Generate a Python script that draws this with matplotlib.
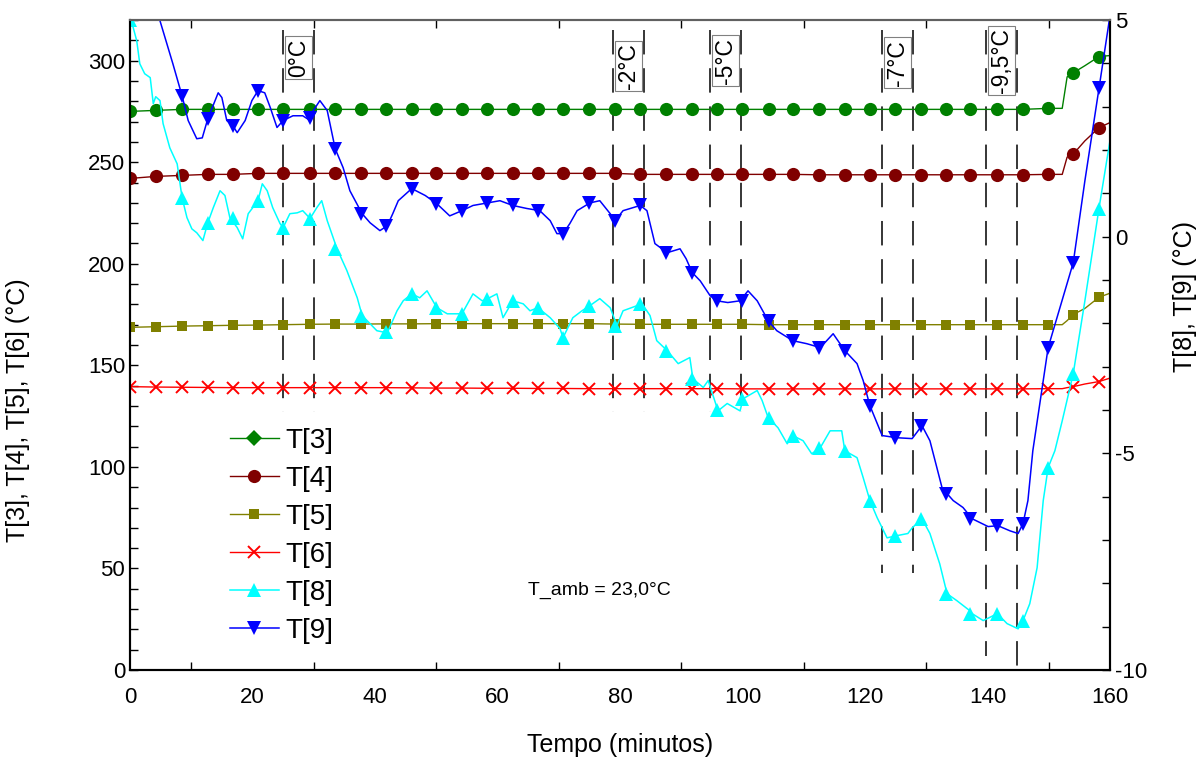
import matplotlib
matplotlib.use("Agg")
import matplotlib.pyplot as plt
from matplotlib.lines import Line2D
from matplotlib.ticker import MultipleLocator, FixedLocator

plt.rcParams['font.family'] = ['Liberation Sans', 'DejaVu Sans']
plt.rcParams['axes.unicode_minus'] = False

# tempos das amostras marcadas (minutos)
t_mark = [0.0, 4.2, 8.5, 12.7, 16.8, 20.9, 25.0, 29.4, 33.5, 37.7, 41.8, 46.0, 49.9,
          54.2, 58.3, 62.5, 66.6, 70.7, 75.0, 79.2, 83.3, 87.5, 91.8, 95.8, 99.9,
          104.3, 108.2, 112.5, 116.7, 120.8, 124.9, 129.1, 133.2, 137.1, 141.6,
          145.8, 149.9, 154.0, 158.2]

T3_mark = [275.0, 275.5, 276.0, 276.0, 276.0, 276.0, 276.0, 276.0, 276.0, 276.0, 276.0,
           276.0, 276.0, 276.0, 276.0, 276.0, 276.0, 276.0, 276.0, 276.0, 276.0, 276.0,
           276.0, 276.0, 276.0, 276.0, 276.0, 276.0, 276.0, 276.0, 276.0, 276.0, 276.0,
           276.0, 276.0, 276.0, 276.5, 294.0, 302.0]
T4_mark = [242.0, 243.0, 243.5, 244.0, 244.0, 244.5, 244.5, 244.5, 244.5, 244.5, 244.5,
           244.5, 244.5, 244.5, 244.5, 244.5, 244.5, 244.5, 244.5, 244.5, 244.0, 244.0,
           244.0, 244.0, 244.0, 244.0, 244.0, 243.8, 243.8, 243.8, 243.8, 243.8, 243.8,
           243.8, 243.8, 243.8, 244.0, 254.0, 267.0]
T5_mark = [168.7, 169.0, 169.3, 169.5, 169.7, 169.8, 170.0, 170.2, 170.3, 170.3, 170.4,
           170.4, 170.5, 170.5, 170.5, 170.5, 170.5, 170.5, 170.5, 170.3, 170.2, 170.2,
           170.2, 170.2, 170.2, 170.0, 170.0, 170.0, 170.0, 170.0, 170.0, 170.0, 170.0,
           170.0, 170.0, 170.0, 170.0, 175.0, 183.5]
T6_mark = [139.5, 139.3, 139.2, 139.1, 139.0, 139.0, 139.0, 139.0, 139.0, 139.0, 139.0,
           138.9, 138.8, 138.8, 138.7, 138.7, 138.6, 138.6, 138.5, 138.5, 138.5, 138.5,
           138.5, 138.5, 138.4, 138.4, 138.4, 138.4, 138.4, 138.4, 138.4, 138.4, 138.4,
           138.4, 138.4, 138.4, 138.5, 139.5, 142.0]

# trecho final (subida) das curvas T[3]..T[6]
t_end = [152.2, 153.0, 155.9, 160.0]
T3_end = [276.5, 292.0, 297.5, 302.5]
T4_end = [244.0, 252.5, 260.5, 269.5]
T5_end = [170.0, 172.0, 178.0, 185.5]
T6_end = [138.5, 139.0, 140.8, 143.7]

# marcadores de T[8] e T[9] (eixo da direita)
t_mark_89 = t_mark[2:]
T8_mark = [0.90, 0.32, 0.44, 0.83, 0.20, 0.41, -0.28, -1.82, -2.20, -1.32, -1.64, -1.78,
           -1.43, -1.48, -1.64, -2.33, -1.59, -2.05, -1.55, -2.63, -3.28, -4.00, -3.74,
           -4.18, -4.60, -4.87, -4.94, -6.10, -6.90, -6.51, -8.24, -8.70, -8.70, -8.86,
           -5.33, -3.16, 0.65]
T9_mark = [3.25, 2.72, 2.56, 3.37, 2.68, 2.75, 2.03, 0.53, 0.25, 1.11, 0.76, 0.60,
           0.78, 0.72, 0.60, 0.07, 0.78, 0.37, 0.72, -0.37, -0.83, -1.48, -1.48,
           -1.94, -2.40, -2.56, -2.63, -3.90, -4.64, -4.36, -5.93, -6.51, -6.67, -6.62,
           -2.56, -0.60, 3.42]

# registro continuo de T[8]
t8 = [0.0, 1.1, 1.6, 2.4, 3.3, 3.8, 4.2, 4.9, 5.4, 6.5, 7.7, 8.5, 9.3, 10.1, 10.9, 11.9,
      12.7, 13.6, 14.7, 15.5, 16.3, 17.5, 18.4, 19.3, 20.9, 21.6, 22.4, 23.3, 24.5, 25.0,
      26.1, 27.3, 28.2, 29.4, 30.5, 31.3, 32.2, 33.8, 35.4, 37.1, 37.9, 40.3, 42.0, 43.6,
      44.6, 46.0, 47.3, 48.5, 50.1, 51.8, 54.2, 56.0, 57.5, 58.4, 59.9, 60.9, 62.5, 64.2,
      65.3, 66.6, 68.6, 70.2, 70.7, 72.3, 73.8, 75.1, 76.7, 78.4, 79.5, 80.5, 83.6, 84.9,
      86.0, 87.7, 89.5, 91.4, 91.9, 93.6, 94.4, 96.0, 97.5, 99.6, 100.1, 102.4, 103.2,
      104.2, 105.8, 107.3, 108.2, 109.9, 111.3, 112.7, 114.3, 116.2, 116.7, 118.7, 119.7,
      120.8, 122.0, 123.6, 125.2, 127.0, 127.7, 129.3, 130.6, 132.2, 133.4, 135.0, 137.1,
      137.5, 139.3, 141.6, 143.2, 145.0, 145.8, 146.9, 148.1, 149.1, 149.9, 151.0, 152.2,
      154.0, 155.9, 158.2, 160.0]
T8 = [5.10, 4.52, 3.99, 3.76, 3.67, 3.07, 3.23, 3.14, 2.61, 2.05, 1.68, 0.90, 0.44, 0.18,
      0.09, -0.09, 0.32, 0.67, 1.06, 0.95, 0.44, 0.21, -0.05, 0.53, 0.83, 1.22, 1.06, 0.67,
      0.30, 0.21, 0.53, 0.55, 0.60, 0.42, 0.67, 0.83, 0.37, -0.28, -0.78, -1.41, -1.82,
      -2.17, -2.22, -1.71, -1.48, -1.32, -1.41, -1.25, -1.64, -1.78, -1.78, -1.32, -1.48,
      -1.43, -1.32, -1.87, -1.48, -1.55, -1.71, -1.64, -1.87, -2.12, -2.33, -1.87, -1.71,
      -1.59, -1.43, -1.64, -2.05, -1.71, -1.55, -1.82, -2.40, -2.63, -2.93, -2.79, -3.28,
      -3.48, -3.32, -4.02, -3.85, -4.02, -3.74, -3.55, -3.78, -4.18, -4.41, -4.78, -4.59,
      -4.71, -5.01, -4.87, -4.48, -4.48, -4.94, -5.10, -5.56, -6.09, -6.49, -6.95, -6.90,
      -6.85, -6.72, -6.51, -6.85, -7.55, -8.24, -8.40, -8.63, -8.70, -8.86, -8.70, -8.93,
      -9.05, -8.86, -8.47, -7.64, -6.09, -5.33, -4.94, -4.25, -3.16, -1.48, 0.65, 2.22]

# registro continuo de T[9]
t9 = [0.0, 4.9, 7.0, 8.5, 9.5, 10.9, 11.8, 12.7, 14.4, 15.0, 15.8, 16.8, 17.5, 18.8,
      19.9, 20.9, 22.0, 22.9, 24.0, 25.0, 26.6, 28.2, 29.4, 29.7, 31.0, 32.2, 33.5, 34.8,
      35.9, 37.9, 39.2, 40.8, 42.0, 42.9, 43.8, 46.0, 48.2, 50.1, 52.2, 54.2, 56.0, 58.4,
      60.4, 62.5, 64.8, 66.9, 68.6, 69.7, 70.7, 71.8, 73.0, 75.1, 76.7, 78.4, 79.2, 80.5,
      83.3, 84.4, 85.7, 87.7, 89.8, 90.8, 91.8, 93.1, 94.7, 95.8, 97.6, 99.6, 100.9,
      102.4, 104.2, 105.6, 108.2, 110.5, 112.7, 114.8, 116.7, 118.7, 119.7, 120.8, 122.8,
      125.2, 127.7, 129.3, 130.6, 132.7, 133.4, 134.4, 136.0, 137.5, 138.8, 140.1, 141.7,
      143.7, 145.0, 145.8, 146.6, 147.4, 149.9, 154.0, 155.9, 158.2, 160.0]
T9 = [7.00, 4.98, 3.99, 3.25, 2.68, 2.26, 2.28, 2.72, 3.32, 3.21, 2.68, 2.56, 2.40, 2.68,
      3.14, 3.37, 3.32, 2.98, 2.52, 2.68, 2.79, 2.79, 2.68, 2.86, 3.14, 2.91, 2.03, 1.59,
      1.06, 0.53, 0.32, 0.14, 0.25, 0.53, 0.83, 1.11, 0.95, 0.76, 0.48, 0.60, 0.72, 0.78,
      0.83, 0.72, 0.65, 0.60, 0.37, 0.07, 0.07, 0.30, 0.60, 0.78, 0.83, 0.53, 0.37, 0.60,
      0.72, 0.60, -0.16, -0.37, -0.28, -0.51, -0.83, -1.02, -1.36, -1.48, -1.52, -1.48,
      -1.25, -1.48, -1.94, -2.17, -2.40, -2.47, -2.56, -2.24, -2.63, -2.93, -3.32, -3.90,
      -4.59, -4.64, -4.66, -4.36, -4.71, -5.86, -5.93, -6.09, -6.25, -6.51, -6.60, -6.69,
      -6.67, -6.79, -6.85, -6.62, -6.09, -4.94, -2.56, -0.60, 1.29, 3.42, 5.10]

# pares de linhas tracejadas e rotulos de temperatura
t_pairs = [(25.0, 30.0), (78.9, 83.9), (94.7, 99.8), (122.8, 127.8), (139.8, 144.8)]
pair_bottom = [(127, 127), (127, 127), (127, 127), (48, 48), (7, 0)]
pair_labels = ['0°C', '-2°C', '-5°C', '-7°C', '-9,5°C']
label_y = [301.5, 297.5, 300.0, 299.0, 300.0]

fig = plt.figure(figsize=(11.99, 7.62), dpi=100)
ax = fig.add_axes([130 / 1199, 92 / 762, 980 / 1199, 650 / 762])
ax2 = ax.twinx()

# linhas verticais tracejadas
for (ta, tb), (ba, bb) in zip(t_pairs, pair_bottom):
    for tx, bot in ((ta, ba), (tb, bb)):
        ax.plot([tx, tx], [315, bot], color='black', lw=1.1, dashes=(16, 9), zorder=1)

for (ta, tb), lbl, ly in zip(t_pairs, pair_labels, label_y):
    ax.text((ta + tb) / 2, ly, lbl, rotation=90, ha='center', va='center', fontsize=16.5,
            bbox=dict(boxstyle='square,pad=0.1', fc='white', ec='#808080', lw=0.8),
            zorder=3)

series_left = [
    (T3_mark, T3_end, '#008000', 'o', 9.5),
    (T4_mark, T4_end, '#800000', 'o', 9.5),
    (T5_mark, T5_end, '#808000', 's', 6.5),
    (T6_mark, T6_end, '#FF0000', 'x', 9),
]
for vals, vend, col, mk, ms in series_left:
    # linha: marcadores ate 150 min e a subida final
    ax.plot(t_mark[:-2] + t_end[:2] + [t_mark[-2]] + t_end[2:3] + [t_mark[-1]] + t_end[3:],
            vals[:-2] + vend[:2] + [vals[-2]] + vend[2:3] + [vals[-1]] + vend[3:],
            color=col, lw=1.0, zorder=2)
    ax.plot(t_mark, vals, linestyle='none', marker=mk, color=col, markersize=ms,
            markeredgewidth=1.4 if mk == 'x' else 0, zorder=2)

ax2.plot(t8, T8, color='#00FFFF', lw=1.1)
ax2.plot(t_mark_89, T8_mark, linestyle='none', marker='^', color='#00FFFF',
         markersize=10, markeredgewidth=0)
ax2.plot([0.0], [5.0], linestyle='none', marker='^', color='#00FFFF',
         markersize=10, markeredgewidth=0)
ax2.plot(t9, T9, color='#0000FF', lw=1.1)
ax2.plot(t_mark_89, T9_mark, linestyle='none', marker='v', color='#0000FF',
         markersize=10, markeredgewidth=0)

ax.text(76.6, 39.4, 'T_amb = 23,0°C', ha='center', va='center', fontsize=14)

ax.set_xlim(0, 160)
ax.set_ylim(0, 320)
ax2.set_ylim(-10, 5)

ax.xaxis.set_major_locator(MultipleLocator(20))
ax.xaxis.set_minor_locator(FixedLocator([10, 30, 50, 70, 90, 110, 130, 150]))
ax.yaxis.set_major_locator(MultipleLocator(50))
ax.yaxis.set_minor_locator(MultipleLocator(10))
ax2.yaxis.set_major_locator(MultipleLocator(5))
ax2.yaxis.set_minor_locator(MultipleLocator(1))

ax.tick_params(axis='x', which='major', direction='in', length=0, labelsize=16, pad=12,
               top=False)
ax.tick_params(axis='x', which='minor', direction='in', length=6, width=1, top=True)
ax.tick_params(axis='y', which='both', direction='in', length=6, width=1, labelsize=16)
ax2.tick_params(axis='y', which='both', direction='in', length=6, width=1, labelsize=16)

for s in ax.spines.values():
    s.set_linewidth(1.5)
ax.spines['top'].set_color('#606060')
for s in ax2.spines.values():
    s.set_linewidth(1.5)
ax2.spines['top'].set_color('#606060')

ax.set_xlabel('Tempo (minutos)', fontsize=18, labelpad=18)
ax.set_ylabel('T[3], T[4], T[5], T[6] (°C)', fontsize=18)
ax.yaxis.set_label_coords(-0.102, 0.40)
ax2.set_ylabel('T[8], T[9] (°C)', fontsize=18, rotation=90)
ax2.yaxis.set_label_coords(1.064, 0.575)

handles = [
    Line2D([], [], color='#008000', lw=1.0, marker='D', markersize=8, markeredgewidth=0),
    Line2D([], [], color='#800000', lw=1.0, marker='o', markersize=9.5, markeredgewidth=0),
    Line2D([], [], color='#808000', lw=1.0, marker='s', markersize=6.5, markeredgewidth=0),
    Line2D([], [], color='#FF0000', lw=1.0, marker='x', markersize=9, markeredgewidth=1.4),
    Line2D([], [], color='#00FFFF', lw=1.1, marker='^', markersize=10, markeredgewidth=0),
    Line2D([], [], color='#0000FF', lw=1.1, marker='v', markersize=10, markeredgewidth=0),
]
leg = ax2.legend(handles, ['T[3]', 'T[4]', 'T[5]', 'T[6]', 'T[8]', 'T[9]'],
                 loc='upper left', bbox_to_anchor=(0.102, 0.372), frameon=False,
                 fontsize=20, handlelength=1.75, handletextpad=0.25, labelspacing=0.43,
                 borderpad=0, borderaxespad=0)

plt.savefig('out.png', dpi=100)
